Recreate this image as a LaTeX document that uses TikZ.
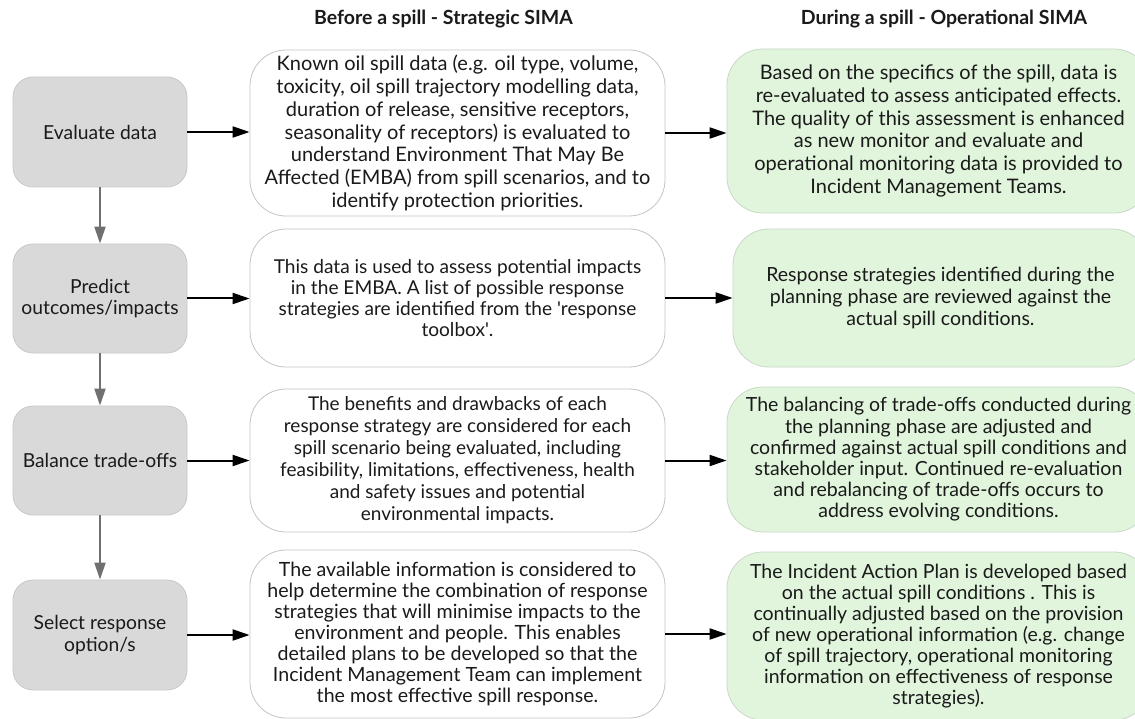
\documentclass[tikz,border=0pt]{standalone}
\usepackage{fontspec}
\setmainfont{Lato}
\usetikzlibrary{arrows.meta}
\definecolor{grayfill}{HTML}{D9D9D9}
\definecolor{grayline}{HTML}{C9C9C9}
\definecolor{whiteline}{HTML}{C4C4C4}
\definecolor{greenfill}{HTML}{E1F5DD}
\definecolor{greenline}{HTML}{C9D9C6}
\definecolor{txt}{HTML}{1A1A1A}
\definecolor{varrow}{HTML}{707070}
\tikzset{
  stepbox/.style={draw=grayline, fill=grayfill, rounded corners=20pt, line width=0.8pt,
    minimum width=174pt, align=center, text=txt, inner sep=0pt,
    font=\fontsize{19.3}{21.7}\selectfont},
  midbox/.style={draw=whiteline, fill=white, rounded corners=36pt, line width=0.8pt,
    minimum width=415pt, align=center, text=txt, inner sep=0pt},
  opbox/.style={draw=greenline, fill=greenfill, rounded corners=36pt, line width=0.8pt,
    minimum width=423pt, align=center, text=txt, inner sep=0pt},
  fs/.style 2 args={font=\fontsize{#1}{#2}\selectfont},
  head/.style={font=\bfseries\fontsize{19.5}{22}\selectfont, text=txt},
  harrow/.style={-{Triangle[length=17pt,width=11pt]}, line width=2pt, black},
  varrowst/.style={-{Triangle[length=17pt,width=11pt]}, line width=2pt, varrow},
}
\begin{document}
\begin{tikzpicture}[x=1pt,y=-1pt]
\useasboundingbox (0,0) rectangle (1135,719);
\clip (0,0) rectangle (1135,719);
\fill[white] (0,0) rectangle (1135,719);

\node[head] (h1) at (443.5,19) {Before a spill - Strategic SIMA};
\node[head] (h2) at (944,19) {During a spill - Operational SIMA};

\node[stepbox, minimum height=110pt] (g1) at (100,132) {Evaluate data};
\node[stepbox, minimum height=109pt] (g2) at (100,298.5) {Predict\\outcomes/impacts};
\node[stepbox, minimum height=109pt] (g3) at (100,460.5) {Balance trade-offs};
\node[stepbox, minimum height=110pt] (g4) at (100,635) {Select response\\option/s};

\node[midbox, fs={20}{22.7}, minimum height=166pt] (m1) at (457.5,133) {Known oil spill data (e.g. oil type, volume,\\toxicity, oil spill trajectory modelling data,\\duration of release, sensitive receptors,\\seasonality of receptors) is evaluated to\\understand Environment That May Be\\Affected (EMBA) from spill scenarios, and to\\identify protection priorities.};
\node[midbox, fs={19.1}{21.3}, minimum height=138pt] (m2) at (457.5,298) {This data is used to assess potential impacts\\in the EMBA. A list of possible response\\strategies are identified from the \textquotesingle response\\toolbox\textquotesingle.};
\node[midbox, fs={19}{22}, minimum height=143pt] (m3) at (457.5,460.5) {The benefits and drawbacks of each\\response strategy are considered for each\\spill scenario being evaluated, including\\feasibility, limitations, effectiveness, health\\and safety issues and potential\\environmental impacts.};
\node[midbox, fs={19.6}{21}, minimum height=168pt] (m4) at (457.5,634) {The available information is considered to\\help determine the combination of response\\strategies that will minimise impacts to the\\environment and people. This enables\\detailed plans to be developed so that the\\Incident Management Team can implement\\the most effective spill response.};

\node[opbox, fs={20}{22.7}, minimum height=164pt] (r1) at (938.5,131) {Based on the specifics of the spill, data is\\re-evaluated to assess anticipated effects.\\The quality of this assessment is enhanced\\as new monitor and evaluate and\\operational monitoring data is provided to\\Incident Management Teams.};
\node[opbox, fs={19.5}{21.8}, minimum height=138pt, minimum width=415pt] (r2) at (940.5,298) {Response strategies identified during the\\planning phase are reviewed against the\\actual spill conditions.};
\node[opbox, fs={19.5}{21.2}, minimum height=145pt] (r3) at (938.5,459.5) {The balancing of trade-offs conducted during\\the planning phase are adjusted and\\confirmed against actual spill conditions and\\stakeholder input. Continued re-evaluation\\and rebalancing of trade-offs occurs to\\address evolving conditions.};
\node[opbox, fs={19.5}{21}, minimum height=168pt] (r4) at (938.5,636) {The Incident Action Plan is developed based\\on the actual spill conditions . This is\\continually adjusted based on the provision\\of new operational information (e.g. change\\of spill trajectory, operational monitoring\\information on effectiveness of response\\strategies).};

\draw[varrowst] (g1.south) -- (g2.north);
\draw[varrowst] (g2.south) -- (g3.north);
\draw[varrowst] (g3.south) -- (g4.north);

\draw[harrow] (g1.east) -- (g1.east -| m1.west);
\draw[harrow] (g2.east) -- (g2.east -| m2.west);
\draw[harrow] (g3.east) -- (g3.east -| m3.west);
\draw[harrow] (g4.east) -- (g4.east -| m4.west);

\draw[harrow] (m1.east) -- (m1.east -| r1.west);
\draw[harrow] (m2.east) -- (m2.east -| r2.west);
\draw[harrow] (m3.east) -- (m3.east -| r3.west);
\draw[harrow] (m4.east) -- (m4.east -| r4.west);
\end{tikzpicture}
\end{document}
